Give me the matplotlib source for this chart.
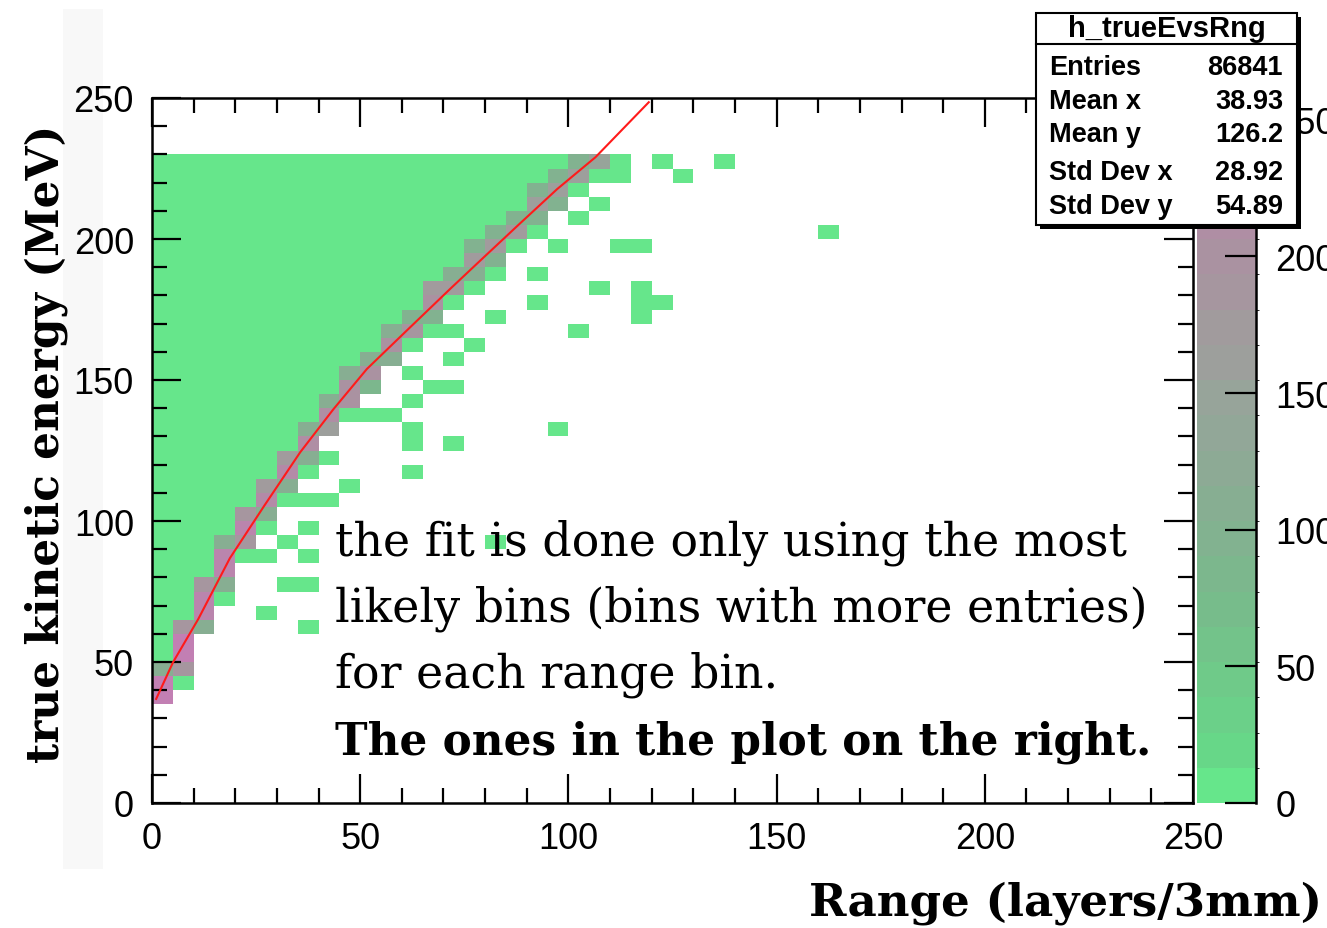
import numpy as np
import matplotlib as mpl
import matplotlib.pyplot as plt
import matplotlib.patches as patches
from matplotlib.colors import LinearSegmentedColormap, ListedColormap, BoundaryNorm
from matplotlib.ticker import MultipleLocator

W, H = 1327, 929

# histogram binning: 5 layers x 5 MeV, energies filled up to 230 MeV
bin_w = 5
n_bins = 50
top_bin = 46
z_max = 258
bulk_count = 6

# range columns along the band: first filled energy bin and the cell
# contents going up from it (0 = empty); the rest of the column holds bulk_count
col_first = [7, 8, 12, 14, 17, 19, 21, 23, 24, 27, 27, 31, 32, 33, 35,
             36, 37, 39, 40, 42, 43, 44, 44]
col_ridge = [
    [250, 250, 110],
    [6, 190, 250, 250, 190],
    [110, 245, 245, 190],
    [6, 110, 245, 245, 110],
    [6, 190, 240, 190],
    [6, 110, 230, 170],
    [6, 110, 225, 170],
    [6, 110, 215, 110],
    [6, 0, 160, 210, 110],
    [6, 205, 205, 110],
    [6, 0, 90, 205, 110],
    [110, 200, 110],
    [6, 190, 100],
    [6, 100, 195, 170],
    [6, 180, 105],
    [6, 105, 180, 100],
    [6, 100, 175, 100],
    [6, 170, 100],
    [6, 100, 165, 100],
    [100, 165, 100],
    [6, 165, 100],
    [6, 150],
    [6, 6],
]

# isolated low-count cells below the band (column, energy bin)
stray_col = [7, 5, 6, 7, 7, 5, 6, 7, 7, 8, 9, 16, 12, 12, 12, 14, 19, 9, 10,
             11, 12, 13, 14, 12, 14, 15, 14, 20, 16, 18, 21, 23, 23, 23, 24,
             18, 19, 22, 23, 32, 20, 21, 25, 24, 27]
stray_row = [12, 13, 15, 15, 17, 17, 18, 19, 21, 21, 22, 18, 23, 25, 26, 25,
             26, 27, 27, 27, 28, 29, 29, 30, 31, 32, 33, 33, 34, 35, 36, 34,
             35, 36, 35, 37, 39, 39, 39, 40, 41, 42, 44, 45, 45]

# fitted energy-range relation
fit_x = [1.0, 5.05, 11.1, 18.7, 27.0, 35.6, 43.6, 51.6, 60.8, 71.6, 78.8,
         88.0, 97.3, 106.5, 119.3]
fit_y = [36.9, 49.9, 65.2, 86.8, 105.5, 124.4, 139.7, 153.9, 167.0, 182.3,
         192.3, 205.0, 217.7, 229.0, 248.5]

stat_names = ['Entries', 'Mean x', 'Mean y', 'Std Dev x', 'Std Dev y']
stat_vals = ['86841', '38.93', '126.2', '28.92', '54.89']

note_lines = ['the fit is done only using the most',
              'likely bins (bins with more entries)',
              'for each range bin.']
note_bold = 'The ones in the plot on the right.'

# fill the 2D grid
counts = np.zeros((n_bins, n_bins))
for j, (first, ridge) in enumerate(zip(col_first, col_ridge)):
    for k, v in enumerate(ridge):
        counts[first + k, j] = v
    counts[first + len(ridge):top_bin, j] = bulk_count
for c, r in zip(stray_col, stray_row):
    if counts[r, c] == 0:
        counts[r, c] = bulk_count
counts = np.ma.masked_equal(counts, 0)
edges = np.arange(n_bins + 1) * bin_w

# palette in 20 contour bands
pal = LinearSegmentedColormap.from_list('pal', [
    (0.0, '#66e68b'), (0.08, '#67d688'), (0.3, '#79b98b'), (0.45, '#8aac94'),
    (0.6, '#9aa29b'), (0.75, '#a894a0'), (0.88, '#b38aa7'), (1.0, '#c67cb6')])
n_lev = 20
band_cols = [pal((i + 0.5) / n_lev) for i in range(n_lev)]
band_cols[0] = '#66e68b'
cmap = ListedColormap(band_cols)
levels = np.linspace(0, z_max, n_lev + 1)
norm = BoundaryNorm(levels, n_lev)

plt.rcParams['font.family'] = 'Liberation Sans'
fig = plt.figure(figsize=(W / 100, H / 100), dpi=100)
fig.patches.append(patches.Rectangle((63 / W, 1 - 870 / H), 40 / W, 860 / H,
                                     transform=fig.transFigure,
                                     facecolor='#f8f8f8', edgecolor='none', zorder=-5))

ax = fig.add_axes([152 / W, 1 - 804 / H, (1193 - 152) / W, (804 - 99) / H])
ax.pcolormesh(edges, edges, counts, cmap=cmap, norm=norm)
ax.plot(fit_x, fit_y, color='#ff1a1a', lw=1.5)
ax.set_xlim(0, 250)
ax.set_ylim(0, 250)

for a in ['x', 'y']:
    getattr(ax, a + 'axis').set_major_locator(MultipleLocator(50))
    getattr(ax, a + 'axis').set_minor_locator(MultipleLocator(10))
ax.tick_params(which='both', direction='in', top=True, right=True,
               width=1.6, labelsize=26, pad=13)
ax.tick_params(which='major', length=21)
ax.tick_params(which='minor', length=11)
for s in ax.spines.values():
    s.set_linewidth(1.8)

# colour scale
cax = fig.add_axes([1197 / W, 1 - 804 / H, (1256 - 1197) / W, (804 - 99) / H])
cb = fig.colorbar(mpl.cm.ScalarMappable(norm=norm, cmap=cmap), cax=cax,
                  ticks=[0, 50, 100, 150, 200, 250])
cb.outline.set_visible(False)
cax.spines['right'].set_visible(True)
cax.spines['right'].set_linewidth(1.8)
cax.tick_params(direction='in', length=22, width=1.6, labelsize=26, pad=14)

# axis titles
fig.text(46 / W, 1 - 444 / H, 'true kinetic energy (MeV)', rotation=90,
         ha='center', va='center', family='DejaVu Serif', weight='bold', size=31.6)
fig.text(1322 / W, 1 - 903 / H, 'Range (layers/3mm)', ha='right', va='center',
         family='DejaVu Serif', weight='bold', size=32.5)

# note
for i, line in enumerate(note_lines + [note_bold]):
    bold = line == note_bold
    fig.text(335 / W, 1 - (555 + 66.5 * i) / H, line, ha='left', va='baseline',
             family='DejaVu Serif', size=31.5 if bold else 33,
             weight='bold' if bold else 'normal')

# statistics box
bx0, by0, bx1, by1 = 1036, 14, 1297, 226
fig.patches.append(patches.Rectangle(((bx0 + 4) / W, 1 - (by1 + 4) / H),
                                     (bx1 - bx0) / W, (by1 - by0) / H,
                                     transform=fig.transFigure, facecolor='black',
                                     edgecolor='none', zorder=10))
fig.patches.append(patches.Rectangle((bx0 / W, 1 - by1 / H), (bx1 - bx0) / W,
                                     (by1 - by0) / H, transform=fig.transFigure,
                                     facecolor='white', edgecolor='black',
                                     lw=1.5, zorder=11))
fig.add_artist(plt.Line2D([bx0 / W, bx1 / W], [1 - 45 / H, 1 - 45 / H],
                          color='black', lw=1.5, zorder=12))
fig.text((bx0 + bx1) / 2 / W, 1 - 29 / H, 'h_trueEvsRng', ha='center',
         va='center', weight='bold', size=21, zorder=12)
for i, (n, v) in enumerate(zip(stat_names, stat_vals)):
    y = [68, 102, 135, 173, 207][i]
    fig.text(1049 / W, 1 - y / H, n, ha='left', va='center', weight='bold',
             size=19.5, zorder=12)
    fig.text(1283 / W, 1 - y / H, v, ha='right', va='center', weight='bold',
             size=19.5, zorder=12)

fig.savefig('out.png', dpi=100)
